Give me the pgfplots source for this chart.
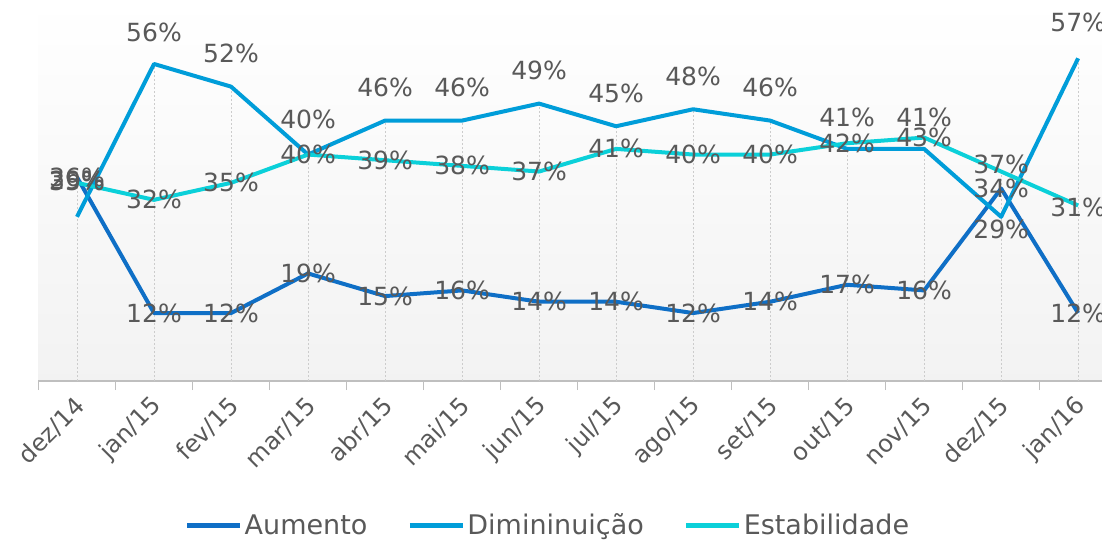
\documentclass[border=0pt]{standalone}
\usepackage{fontspec}
\setmainfont{DejaVu Sans}
\usepackage{pgfplots}
\pgfplotsset{compat=1.18}
\usepackage{pgfplotstable}
\definecolor{cA}{HTML}{0F6FC6}
\definecolor{cD}{HTML}{009DD9}
\definecolor{cE}{HTML}{0BD0D9}
\definecolor{txt}{HTML}{595959}

\pgfplotstableread{
x y off
0 36 0
1 12 0
2 12 0
3 19 0
4 15 0
5 16 0
6 14 0
7 14 0
8 12 0
9 14 0
10 17 0
11 16 0
12 34 0
13 12 0
}\aumento

\pgfplotstableread{
x y off
0 29 36
1 56 32
2 52 33
3 40 35
4 46 33
5 46 33
6 49 33
7 45 33
8 48 33
9 46 33
10 41 31
11 41 31
12 29 -13
13 57 36
}\diminuicao

\pgfplotstableread{
x y off
0 35 1
1 32 0
2 35 0
3 40 0
4 39 0
5 38 0
6 37 0
7 41 0
8 40 0
9 40 0
10 42 0
11 43 0
12 37 7
13 31 -2
}\estabilidade

\pgfplotstableread{
x y
0 36
1 56
2 52
3 40
4 46
5 46
6 49
7 45
8 48
9 46
10 42
11 43
12 37
13 57
}\droplines

\pgfplotsset{
  mylabels/.style={
    point meta=y,
    visualization depends on={\thisrow{off}\as\off},
    nodes near coords={\pgfmathprintnumber{\pgfplotspointmeta}\%},
    every node near coord/.append style={anchor=center, yshift=\off pt, font=\fontsize{25}{25}\selectfont, text=txt},
  }
}

\begin{document}
\begin{tikzpicture}
\begin{axis}[
  at={(38.5pt,158pt)}, anchor=south west,
  scale only axis,
  width=1063.5pt, height=381pt,
  xmin=-0.5, xmax=13.31,
  ymin=0, ymax=67.3,
  /pgf/number format/assume math mode=true,
  axis x line=bottom,
  axis y line=none,
  x axis line style={-, draw=gray!50, line width=1.5pt},
  axis background/.style={top color=white, bottom color=gray!10},
  xtick={0,...,13},
  xticklabels={dez/14,jan/15,fev/15,mar/15,abr/15,mai/15,jun/15,jul/15,ago/15,set/15,out/15,nov/15,dez/15,jan/16},
  minor xtick={-0.5,0.5,...,12.5},
  major tick length=0pt,
  minor tick length=9pt,
  xtick align=outside,
  every tick/.style={draw=gray!50, line width=1pt},
  xticklabel style={xshift=6pt, rotate=45, anchor=east, font=\fontsize{24}{24}\selectfont, text=txt},
  xticklabel shift=19pt,
  ytick=\empty,
  clip=false,
  legend columns=3,
  legend style={at={(0.479,-0.378)}, anchor=center, draw=none, fill=none,
    font=\fontsize{27}{27}\selectfont, text=txt,
    /tikz/every even column/.append style={column sep=38pt}},
  legend image code/.code={\draw[#1, line width=5pt] (0pt,0pt) -- (53pt,0pt);},
]
\addplot[ycomb, draw=gray!40, dash pattern=on 2pt off 2pt, line width=0.8pt, forget plot] table[x=x,y=y]{\droplines};
\addplot[cA, line width=4pt, line join=round, mylabels] table[x=x,y=y]{\aumento};
\addplot[cD, line width=4pt, line join=round, mylabels] table[x=x,y=y]{\diminuicao};
\addplot[cE, line width=4pt, line join=round, mylabels] table[x=x,y=y]{\estabilidade};
\legend{Aumento, Dimininuição, Estabilidade}
\end{axis}
\pgfresetboundingbox
\useasboundingbox (0,0) rectangle (1102pt,539pt);
\end{tikzpicture}
\end{document}
